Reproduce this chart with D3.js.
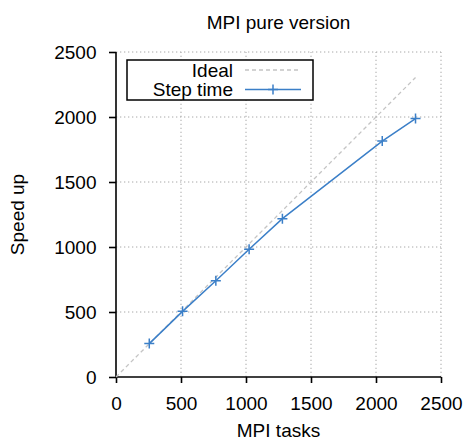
<!DOCTYPE html>
<html>
<head>
<meta charset="utf-8">
<script src="https://cdn.jsdelivr.net/npm/d3@7"></script>
<style>
  html, body { margin: 0; padding: 0; background: #fff; }
  svg text { font-family: "Liberation Sans", Arial, Helvetica, sans-serif; fill: #000; }
</style>
</head>
<body>
<svg id="chart" width="466" height="440"></svg>
<script>
const tasks = [256, 512, 768, 1024, 1280, 2048, 2304];
const speedup = [257, 505, 740, 983, 1218, 1815, 1988];
const idealX = [0, 2304];
const idealY = [0, 2304];
const xTicks = [0, 500, 1000, 1500, 2000, 2500];
const yTicks = [0, 500, 1000, 1500, 2000, 2500];
const title = "MPI pure version";
const xLabel = "MPI tasks";
const yLabel = "Speed up";
const legendLabels = ["Ideal", "Step time"];

(function () {
const svg = d3.select("#chart");
const pL = 116, pR = 441, pT = 52, pB = 377;
const x = d3.scaleLinear().domain([0, 2500]).range([pL, pR]);
const y = d3.scaleLinear().domain([0, 2500]).range([pB, pT]);
const fs = 19;
const blue = "#3b7fc8";

// grid
const grid = svg.append("g");
xTicks.filter(d => d > 0).forEach(t => {
  grid.append("line").attr("x1", x(t)).attr("x2", x(t)).attr("y1", pB).attr("y2", pT)
    .attr("stroke", "#a8a8a8").attr("stroke-width", 1).attr("stroke-dasharray", "1.3,2.7");
});
yTicks.filter(d => d > 0).forEach(t => {
  grid.append("line").attr("x1", pL).attr("x2", pR).attr("y1", y(t)).attr("y2", y(t))
    .attr("stroke", "#a8a8a8").attr("stroke-width", 1).attr("stroke-dasharray", "1.3,2.7");
});

// axes
const xAxis = d3.axisBottom(x).tickValues(xTicks).tickSize(6).tickPadding(14).tickFormat(d3.format("d"));
const yAxis = d3.axisLeft(y).tickValues(yTicks).tickSize(7).tickPadding(12.5).tickFormat(d3.format("d"));
const gx = svg.append("g").attr("transform", `translate(0,${pB})`).call(xAxis);
const gy = svg.append("g").attr("transform", `translate(${pL},0)`).call(yAxis);
[gx, gy].forEach(g => {
  g.select(".domain").attr("stroke", "#000").attr("stroke-width", 1.6);
  g.selectAll(".tick line").attr("stroke", "#000").attr("stroke-width", 1.6);
  g.selectAll(".tick text").style("font-size", fs + "px").style("font-family", '"Liberation Sans", Arial, sans-serif');
});
gx.select(".domain").attr("d", `M${pL},0H${pR}`);
gy.select(".domain").attr("d", `M0,${pB}V${pT}`);

// ideal line
const idealData = idealX.map((d, i) => [d, idealY[i]]);
svg.append("path").datum(idealData)
  .attr("d", d3.line().x(d => x(d[0])).y(d => y(d[1])))
  .attr("fill", "none").attr("stroke", "#c4c4c4").attr("stroke-width", 1.3)
  .attr("stroke-dasharray", "4,3");

// step time line
const stepData = tasks.map((d, i) => [d, speedup[i]]);
svg.append("path").datum(stepData)
  .attr("d", d3.line().x(d => x(d[0])).y(d => y(d[1])))
  .attr("fill", "none").attr("stroke", blue).attr("stroke-width", 1.5);
const m = 5;
svg.append("g").selectAll("path.mk").data(stepData).join("path")
  .attr("d", d => `M${x(d[0]) - m},${y(d[1])}H${x(d[0]) + m}M${x(d[0])},${y(d[1]) - m}V${y(d[1]) + m}`)
  .attr("stroke", blue).attr("stroke-width", 1.5).attr("fill", "none");

// title and labels
svg.append("text").attr("x", (pL + pR) / 2).attr("y", 29).attr("text-anchor", "middle")
  .style("font-size", fs + "px").text(title);
svg.append("text").attr("x", (pL + pR) / 2).attr("y", 437).attr("text-anchor", "middle")
  .style("font-size", fs + "px").text(xLabel);
svg.append("text").attr("transform", `translate(24,${(pT + pB) / 2}) rotate(-90)`)
  .attr("text-anchor", "middle").style("font-size", fs + "px").text(yLabel);

// legend
const lg = svg.append("g");
lg.append("rect").attr("x", 127).attr("y", 60).attr("width", 186).attr("height", 40)
  .attr("fill", "#fff").attr("stroke", "#000").attr("stroke-width", 1.5);
lg.append("text").attr("x", 233).attr("y", 76.5).attr("text-anchor", "end")
  .style("font-size", fs + "px").text(legendLabels[0]);
lg.append("text").attr("x", 233).attr("y", 95.5).attr("text-anchor", "end")
  .style("font-size", fs + "px").text(legendLabels[1]);
lg.append("line").attr("x1", 245).attr("x2", 301).attr("y1", 70).attr("y2", 70)
  .attr("stroke", "#c4c4c4").attr("stroke-width", 1.3).attr("stroke-dasharray", "4,3");
lg.append("line").attr("x1", 245).attr("x2", 301).attr("y1", 89.5).attr("y2", 89.5)
  .attr("stroke", blue).attr("stroke-width", 1.5);
lg.append("path").attr("d", `M${273 - m},89.5H${273 + m}M273,${89.5 - m}V${89.5 + m}`)
  .attr("stroke", blue).attr("stroke-width", 1.5);
})();
</script>
</body>
</html>
